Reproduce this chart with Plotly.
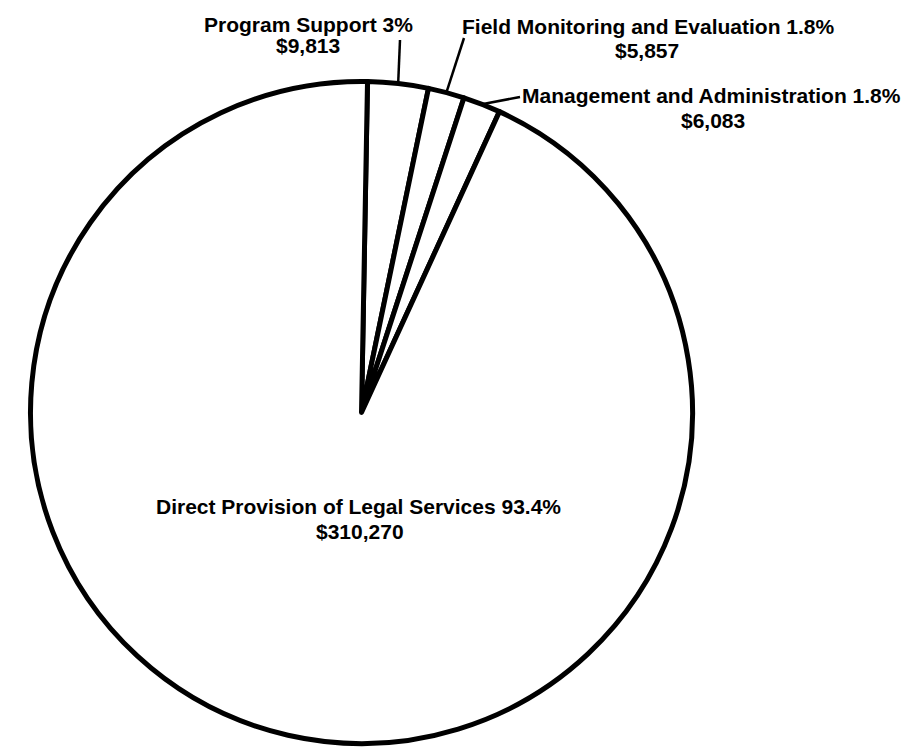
import math
import plotly.graph_objects as go

# Budget categories, clockwise from 12 o'clock
categories = [
    "Program Support",
    "Field Monitoring and Evaluation",
    "Management and Administration",
    "Direct Provision of Legal Services",
]
amounts = [9813, 5857, 6083, 310270]
amount_labels = ["$9,813", "$5,857", "$6,083", "$310,270"]
percent_labels = ["3%", "1.8%", "1.8%", "93.4%"]

W, H = 914, 749
CX, CY, R = 361.5, 412.5, 331.0   # pie centre and radius in pixels
ROTATION = 1.04                   # start angle of first slice, degrees clockwise from top


def px(x):
    return x / W


def py(y):
    return 1 - y / H


fig = go.Figure(
    go.Pie(
        labels=categories,
        values=amounts,
        sort=False,
        direction="clockwise",
        rotation=ROTATION,
        textinfo="none",
        hoverinfo="label+value",
        marker=dict(colors=["white"] * 4, line=dict(color="black", width=5)),
        domain=dict(x=[px(CX - R), px(CX + R)], y=[py(CY + R), py(CY - R)]),
    )
)

font = dict(family="Liberation Sans, Arial, sans-serif", size=21, color="black", weight="bold")

# label text placement (pixel centres of the two lines) and leader-line outer ends
label_lines = {
    "Program Support": ((308, 24), (308, 46), (400, 40)),
    "Field Monitoring and Evaluation": ((648, 27), (647, 50), (464, 38)),
    "Management and Administration": ((711, 96), (713, 121), (520, 97)),
    "Direct Provision of Legal Services": ((358, 506), (360, 531), None),
}

annotations = []
shapes = []
total = sum(amounts)
start = ROTATION
for name, amt, amt_txt, pct in zip(categories, amounts, amount_labels, percent_labels):
    span = 360.0 * amt / total
    mid = math.radians(start + span / 2)
    start += span
    (x1, y1), (x2, y2), leader = label_lines[name]
    annotations.append(dict(x=px(x1), y=py(y1), xref="paper", yref="paper",
                            text=f"{name} {pct}", showarrow=False, font=font,
                            xanchor="center", yanchor="middle"))
    annotations.append(dict(x=px(x2), y=py(y2), xref="paper", yref="paper",
                            text=amt_txt, showarrow=False, font=font,
                            xanchor="center", yanchor="middle"))
    if leader is not None:
        ex = CX + R * math.sin(mid)
        ey = CY - R * math.cos(mid)
        shapes.append(dict(type="line", xref="paper", yref="paper",
                           x0=px(ex), y0=py(ey), x1=px(leader[0]), y1=py(leader[1]),
                           line=dict(color="black", width=2.5)))

fig.update_layout(
    width=W,
    height=H,
    margin=dict(l=0, r=0, t=0, b=0),
    paper_bgcolor="white",
    plot_bgcolor="white",
    showlegend=False,
    annotations=annotations,
    shapes=shapes,
)

fig.write_html("out.html")
